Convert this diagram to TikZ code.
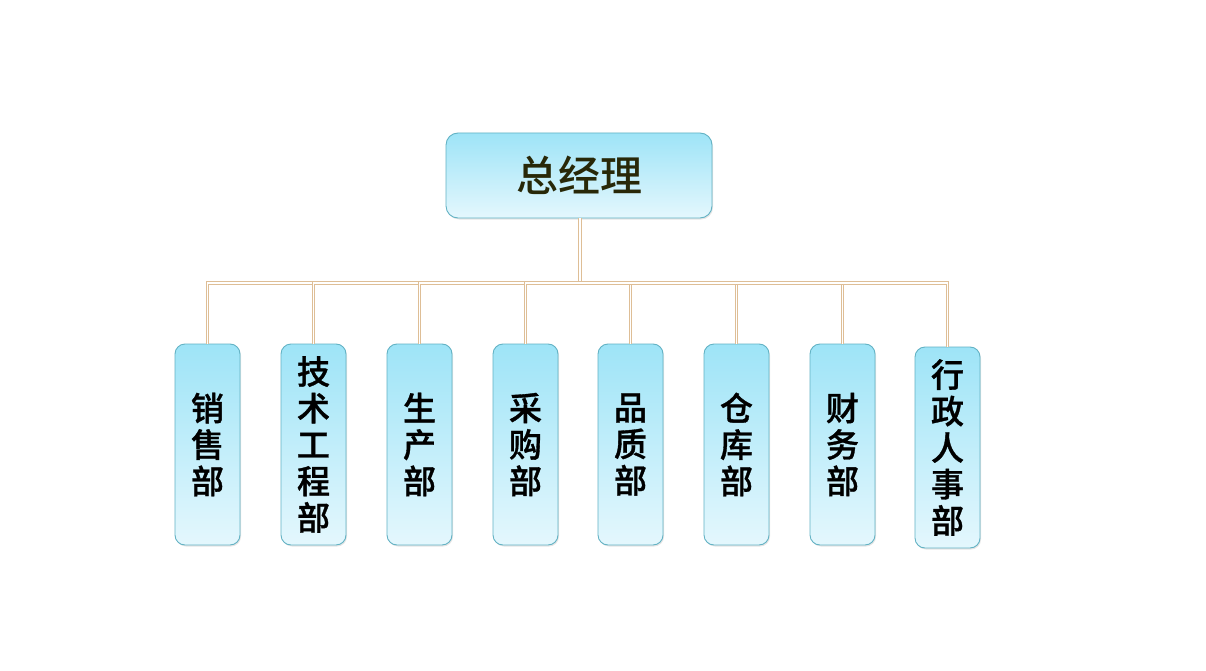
\documentclass[tikz,border=0pt]{standalone}
\usepackage{fontspec}
\usepackage{tikz}
\usetikzlibrary{shadows}
\newfontfamily\cjkhead{Noto Sans CJK SC Medium}
\newfontfamily\cjkdept[FakeBold=1]{Noto Sans CJK SC Medium}
\definecolor{box_border}{RGB}{98,178,196}
\definecolor{box_top}{RGB}{158,228,247}
\definecolor{box_bottom}{RGB}{228,247,253}
\definecolor{line_tan}{RGB}{222,190,150}
\definecolor{head_text}{RGB}{40,40,8}

\begin{document}
\begin{tikzpicture}[x=1pt,y=-1pt]
    \tikzstyle{box}=[draw=box_border, line width=0.9pt, top color=box_top, bottom color=box_bottom,
                     drop shadow={opacity=0.2,shadow xshift=1pt,shadow yshift=-1.5pt}]
    \tikzstyle{head}=[box, rounded corners=12pt, minimum width=266pt, minimum height=85pt, inner sep=0pt,
                      text=head_text, font=\cjkhead\fontsize{42}{44}\selectfont]
    \tikzstyle{dept}=[box, rounded corners=10pt, minimum width=65pt, minimum height=201pt, inner sep=0pt,
                      align=center, text=black, font=\cjkdept\fontsize{33}{36.5}\selectfont]
    \tikzstyle{link}=[draw=line_tan, double=white, double distance=1.3pt, line width=1pt]

    \useasboundingbox[fill=white] (0,0) rectangle (1206,671);

    \node[head] (gm) at (579,175.5) {总经理};

    \node[dept] (d1) at (207.5,444.5) {销\\售\\部};
    \node[dept] (d2) at (313.5,444.5) {技\\术\\工\\程\\部};
    \node[dept] (d3) at (419.5,444.5) {生\\产\\部};
    \node[dept] (d4) at (525.5,444.5) {采\\购\\部};
    \node[dept] (d5) at (630.5,444.5) {品\\质\\部};
    \node[dept] (d6) at (736.5,444.5) {仓\\库\\部};
    \node[dept] (d7) at (842.5,444.5) {财\\务\\部};
    \node[dept] (d8) at (947.5,447.5) {行\\政\\人\\事\\部};

    % trunk and branches
    \coordinate (bus) at (580,283);
    \draw[link] (gm.south -| bus) -- (bus);
    \foreach \d in {d1,d2,d3,d4,d5,d6,d7,d8}
      \draw[link] (bus) -| (\d.north);
\end{tikzpicture}
\end{document}
